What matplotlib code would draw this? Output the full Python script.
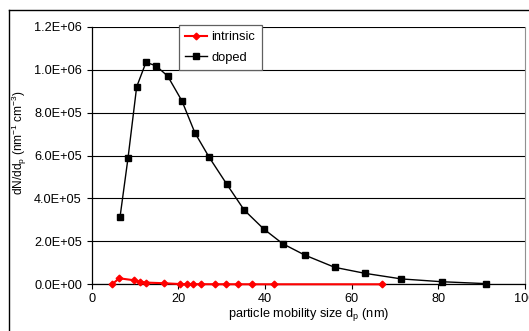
import matplotlib
matplotlib.use("Agg")
import matplotlib.pyplot as plt
from matplotlib.lines import Line2D
from matplotlib.ticker import FuncFormatter

plt.rcParams['font.family'] = ['Liberation Sans', 'DejaVu Sans']

# data
intrinsic_x = [4.7, 6.4, 9.7, 11.2, 12.6, 16.7, 20.5, 21.9, 23.4, 25.3, 28.5, 31.0, 33.8, 36.9, 42.1, 67.1]
intrinsic_y = [0.0, 2.8e4, 1.9e4, 1.2e4, 0.8e4, 0.5e4, 0.1e4, 0.1e4, 0.05e4, 0.05e4, 0.03e4, 0.02e4, 0.01e4, 0.01e4, 0.0, 0.0]
doped_x = [6.55, 8.4, 10.4, 12.55, 14.85, 17.55, 20.85, 23.85, 27.15, 31.2, 35.2, 39.7, 44.1, 49.2, 56.1, 63.1, 71.5, 80.8, 91.1]
doped_y = [3.12e5, 5.88e5, 9.2e5, 10.34e5, 10.18e5, 9.70e5, 8.54e5, 7.05e5, 5.91e5, 4.66e5, 3.46e5, 2.58e5, 1.89e5, 1.36e5, 0.79e5, 0.51e5, 0.25e5, 0.12e5, 0.03e5]
x_ticks = [0, 20, 40, 60, 80, 100]
y_ticks = [0, 2e5, 4e5, 6e5, 8e5, 1.0e6, 1.2e6]

W, H = 529, 331
fig = plt.figure(figsize=(W / 100, H / 100), dpi=100)
ax = fig.add_axes([91.6 / W, 1 - 284.3 / H, (525 - 91.6) / W, (284.3 - 26.7) / H])

# outer chart frame (extends beyond the right/bottom edges)
fig.add_artist(Line2D([8.5 / W, 8.5 / W], [-0.1, 1 - 10 / H], color='black', lw=1.0, transform=fig.transFigure))
fig.add_artist(Line2D([8.5 / W, 1.1], [1 - 10 / H, 1 - 10 / H], color='black', lw=1.0, transform=fig.transFigure))

ax.set_xlim(0, 100)
ax.set_ylim(0, 1.2e6)
ax.set_xticks(x_ticks)
ax.set_yticks(y_ticks)
ax.yaxis.set_major_formatter(FuncFormatter(lambda v, p: '%.1E' % v))
ax.grid(axis='y', color='black', lw=0.8)
ax.set_axisbelow(True)

ax.plot(doped_x, doped_y, color='black', lw=1.0, marker='s', markersize=4.5, label='doped', zorder=3,
        clip_on=False)
ax.plot(intrinsic_x, intrinsic_y, color='red', lw=1.5, marker='D', markersize=3.4, label='intrinsic', zorder=4,
        clip_on=False)

ax.spines['right'].set_color('#909090')
ax.spines['right'].set_linewidth(0.8)
ax.spines['top'].set_visible(False)
for s in ['left', 'bottom']:
    ax.spines[s].set_color('black')
    ax.spines[s].set_linewidth(0.9)
    ax.spines[s].set_zorder(2.5)

ax.tick_params(axis='both', direction='out', length=3.5, width=0.8, labelsize=9.2, colors='black', pad=2.5)
ax.tick_params(axis='y', pad=3.5)

ax.set_xlabel('particle mobility size d$_\\mathregular{p}$ (nm)', fontsize=9.2, labelpad=1)
ax.set_ylabel('dN/dd$_\\mathregular{p}$ (nm$^\\mathregular{-1}$ cm$^\\mathregular{-3}$)', fontsize=8.6)
ax.yaxis.set_label_coords((29 - 91.6) / 433.4, (284.3 - 143) / 257.6)

handles, labels = ax.get_legend_handles_labels()
leg = ax.legend(handles[::-1], labels[::-1], loc='upper left', bbox_to_anchor=(0.2017, 1.0066),
                fontsize=9.3, frameon=True, fancybox=False, framealpha=1, edgecolor='#606060',
                handlelength=1.7, handletextpad=0.3, borderpad=0.5, labelspacing=0.62, borderaxespad=0)
leg.get_frame().set_linewidth(0.9)
leg.set_zorder(5)

fig.savefig('out.png', dpi=100)
